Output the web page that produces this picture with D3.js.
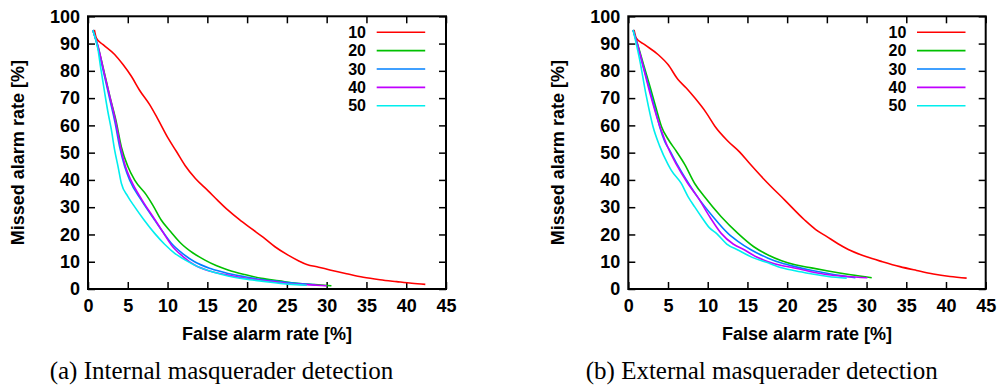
<!DOCTYPE html>
<html>
<head>
<meta charset="utf-8">
<script src="https://cdn.jsdelivr.net/npm/d3@7"></script>
<style>
  html, body { margin: 0; padding: 0; background: #fff; }
  svg { display: block; }
</style>
</head>
<body>
<svg id="chart" width="1000" height="390"></svg>
<script>
// ---------- data ----------
const seriesNames = ["10", "20", "30", "40", "50"];
const xTicks = [0, 5, 10, 15, 20, 25, 30, 35, 40, 45];
const yTicks = [0, 10, 20, 30, 40, 50, 60, 70, 80, 90, 100];
const xLabel = "False alarm rate [%]";
const yLabel = "Missed alarm rate [%]";
const captions = ["(a) Internal masquerader detection", "(b) External masquerader detection"];

// (a) Internal: [false alarm %, missed alarm %]
const internal10 = [[0.8,95],[1.05,92],[1.9,89.6],[3.35,86],[4.4,82.3],[5.45,78],[6.5,72.8],[7.75,67.6],[8.8,62.2],[10.05,55.4],[11.1,50.5],[12.2,45.3],[13.5,40.5],[15.1,36.0],[16.3,32.5],[17.6,28.9],[19.0,25.5],[20.5,22.2],[22.0,19.0],[23.5,15.5],[25.1,12.5],[26.5,10.3],[27.5,9.0],[29,8.0],[30.4,7.0],[32.5,5.6],[34.6,4.3],[36.7,3.4],[38.8,2.7],[40.7,2.1],[42.4,1.7]];
const internal20 = [[0.6,95],[1.2,89.5],[2.0,80],[2.8,70],[3.5,62],[4.2,52],[5.0,45],[5.87,39.9],[7.33,34.5],[8.2,30.5],[9.2,25.3],[10.4,21],[11.7,16.7],[13.2,13.2],[14.7,10.6],[16.1,8.6],[17.6,7.0],[19.7,5.3],[21.8,3.9],[24,3.0],[26.2,2.1],[28.5,1.6],[30.6,1.2]];
const internal30 = [[0.6,95],[1.2,89],[2.0,79],[2.7,70],[3.4,61],[3.98,52],[4.6,45],[5.24,39.9],[6.7,32.6],[8.38,25.3],[9.4,21],[10.5,16.7],[11.9,13],[13.4,10],[15.4,7.5],[17.6,5.7],[19.7,4.5],[21.8,3.5],[23.5,2.9],[25.1,2.4],[27,1.9],[28.6,1.5]];
const internal40 = [[0.6,95],[1.26,89],[2.05,79],[2.79,70],[3.5,61],[4.1,52],[4.7,45],[5.4,39.9],[6.8,32.6],[8.4,25.5],[9.5,20.5],[10.5,16],[11.9,12],[13.4,8.8],[15.4,6.5],[17.6,5.1],[19.7,4.0],[21.8,3.2],[23.5,2.6],[25.1,2.0],[27.5,1.6],[30,1.2]];
const internal50 = [[0.6,95],[1.26,87.8],[1.6,81],[2.1,71.9],[2.5,65],[2.93,58.5],[3.35,50.9],[3.77,45],[4.2,38.7],[5.0,34],[5.87,30.1],[7.0,25.5],[8.38,20.4],[9.6,16.5],[10.9,13.1],[12.3,10.5],[13.8,8.2],[15.6,6.3],[17.6,4.8],[19.7,3.7],[21.8,2.9],[23.5,2.3],[25.1,1.8],[27.5,1.4]];

// (b) External
const external10 = [[0.72,95],[1.0,92],[2.06,89.6],[3.74,86],[5.0,82.3],[6.26,76.8],[7.3,73.7],[8.36,70.1],[9.82,64.6],[10.9,59.7],[12.55,54.2],[14.0,50.3],[15.2,46.3],[17.2,39.9],[19.7,32.6],[22.2,25.3],[23.6,21.8],[25.0,19.2],[26.4,16.6],[27.7,14.5],[30,11.8],[32,10],[34.2,8.2],[36.3,6.8],[38.4,5.5],[40.5,4.6],[42.6,4.0]];
const external20 = [[0.6,95],[1.2,89.5],[2.0,81.5],[2.8,73.5],[3.5,66.3],[4.16,59.7],[5.0,55],[6.05,50.5],[7.1,45.7],[8.36,38.7],[9.6,33.8],[11.7,26.5],[13.8,20.4],[15.8,15.5],[17.6,12.5],[19.3,10.4],[21,8.9],[22.6,8.0],[25.15,6.6],[28,5.2],[30.65,4.1]];
const external30 = [[0.6,95],[1.2,89],[2.0,80.5],[2.8,72],[3.5,64.5],[3.95,59.5],[4.6,54],[5.2,50.9],[6.1,46],[7.6,38.7],[8.78,33.5],[10.67,26.5],[12.55,20.4],[13.8,17.5],[15.5,14.3],[17.6,11.3],[19.3,9.5],[21,8.2],[23,6.9],[25.15,5.7],[27,4.8],[28.6,4.1]];
const external40 = [[0.6,95],[1.22,89],[2.0,80],[2.8,71],[3.6,63],[4.58,54.8],[5.2,50.5],[6.05,45.7],[7.5,38.7],[8.78,33.5],[10.25,26.5],[11.7,20.4],[13.2,16.5],[14.65,14.3],[16.1,11.8],[17.6,10],[19.3,8.6],[20.5,8.0],[23,6.3],[25.15,5.2],[27.5,4.6],[30.1,4.1]];
const external50 = [[0.6,95],[1.43,84.1],[2.27,70.7],[3.1,59.7],[3.95,52.4],[5.0,45.7],[5.4,43.6],[6.67,38.7],[7.5,34],[8.36,30.1],[9.2,26.5],[10.2,22.5],[11.1,20.4],[12.4,16.5],[13.8,14.3],[15.6,11.6],[17.6,9.6],[18.85,8.2],[21,6.7],[23,5.6],[25.15,4.6],[27.5,4.0]];

const colors = ["#ff0000", "#00c000", "#0080ff", "#c000ff", "#00eeee"];

// ---------- layout ----------
const panels = [
  { left: 88,    right: 446,   series: [internal10, internal20, internal30, internal40, internal50], caption: captions[0], capX: 221.5 },
  { left: 628.3, right: 985.7, series: [external10, external20, external30, external40, external50], caption: captions[1], capX: 761.7 }
];
const plotTop = 16.3, plotBottom = 289;
const sans = "'Liberation Sans', Arial, Helvetica, sans-serif";
const serif = "'Liberation Serif', 'Times New Roman', Times, serif";

const svg = d3.select("#chart");
svg.append("rect").attr("width", 1000).attr("height", 390).attr("fill", "#fff");

panels.forEach(p => {
  const w = p.right - p.left, h = plotBottom - plotTop;
  const x = d3.scaleLinear().domain([0, 45]).range([0, w]);
  const y = d3.scaleLinear().domain([0, 100]).range([h, 0]);
  const g = svg.append("g").attr("transform", `translate(${p.left},${plotTop})`);

  const styleAxis = sel => {
    sel.select(".domain").remove();
    sel.selectAll(".tick line").attr("stroke", "#000").attr("stroke-width", 1.5);
    sel.selectAll(".tick text").attr("fill", "#000")
      .style("font-family", sans).style("font-weight", "bold").style("font-size", "18px");
  };
  g.append("g").attr("transform", `translate(0,${h})`)
    .call(d3.axisBottom(x).tickValues(xTicks).tickSizeInner(-7).tickSizeOuter(0).tickPadding(10.5).tickFormat(d3.format("d")))
    .call(styleAxis);
  g.append("g")
    .call(d3.axisTop(x).tickValues(xTicks).tickSizeInner(-7).tickSizeOuter(0).tickFormat(""))
    .call(styleAxis);
  g.append("g")
    .call(d3.axisLeft(y).tickValues(yTicks).tickSizeInner(-7).tickSizeOuter(0).tickPadding(8).tickFormat(d3.format("d")))
    .call(styleAxis);
  g.append("g").attr("transform", `translate(${w},0)`)
    .call(d3.axisRight(y).tickValues(yTicks).tickSizeInner(-7).tickSizeOuter(0).tickFormat(""))
    .call(styleAxis);

  const line = d3.line().curve(d3.curveMonotoneX).x(d => x(d[0])).y(d => y(d[1]));
  p.series.forEach((s, i) => {
    g.append("path").datum(s).attr("d", line)
      .attr("fill", "none").attr("stroke", colors[i]).attr("stroke-width", 1.6)
      .attr("stroke-linejoin", "round");
  });

  g.append("rect").attr("width", w).attr("height", h)
    .attr("fill", "none").attr("stroke", "#000").attr("stroke-width", 2);

  const leg = g.append("g");
  seriesNames.forEach((name, i) => {
    const ly = 16 + i * 18.35;
    leg.append("text").attr("x", 278).attr("y", ly).attr("dy", "0.36em")
      .attr("text-anchor", "end")
      .style("font-family", sans).style("font-weight", "bold").style("font-size", "16px")
      .text(name);
    leg.append("line").attr("x1", 288.7).attr("x2", 337.2).attr("y1", ly).attr("y2", ly)
      .attr("stroke", colors[i]).attr("stroke-width", 1.6);
  });

  g.append("text").attr("x", w / 2).attr("y", 340 - plotTop).attr("text-anchor", "middle")
    .style("font-family", sans).style("font-weight", "bold").style("font-size", "18px")
    .text(xLabel);
  g.append("text").attr("transform", `translate(${-70.8},${h / 2}) rotate(-90)`)
    .attr("text-anchor", "middle").attr("dy", "0.36em")
    .style("font-family", sans).style("font-weight", "bold").style("font-size", "18px")
    .text(yLabel);

  svg.append("text").attr("x", p.capX).attr("y", 379).attr("text-anchor", "middle")
    .style("font-family", serif).style("font-size", "25px").attr("fill", "#000")
    .text(p.caption);
});
</script>
</body>
</html>
